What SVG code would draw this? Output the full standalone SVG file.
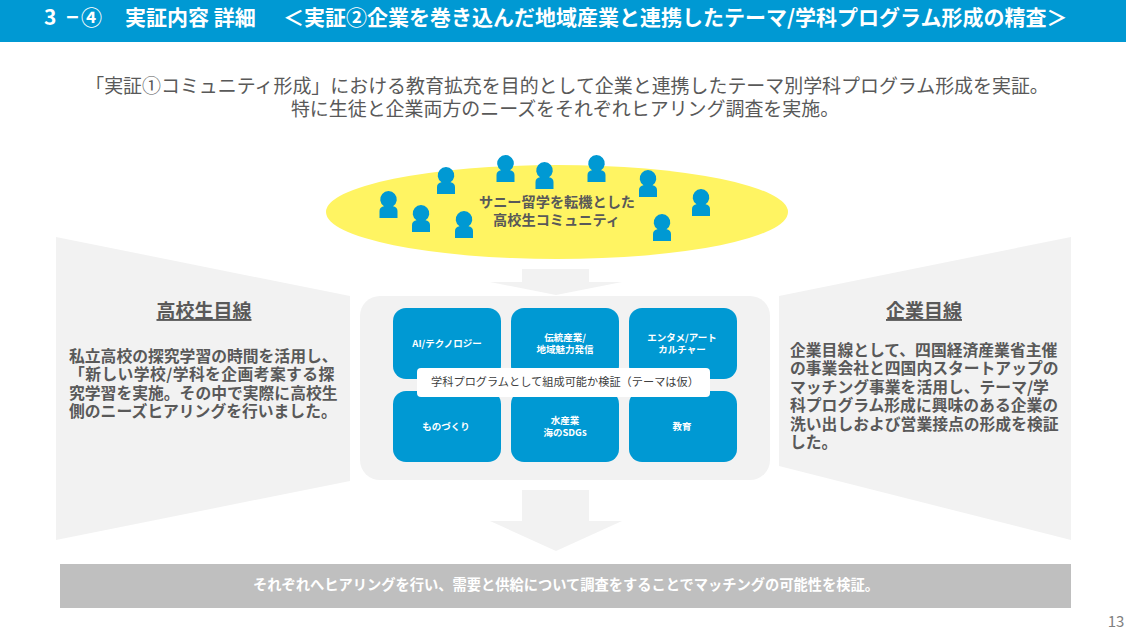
<svg xmlns="http://www.w3.org/2000/svg" width="1126" height="634" viewBox="0 0 1126 634">
<style>
text{font-family:"Noto Sans CJK JP","Liberation Sans",sans-serif;text-anchor:middle;fill:#595959}
.w{fill:#fff;font-weight:700}
.b{font-weight:700}
.g{fill:#f2f2f2}
.t{fill:#0099d3}
.cell{font-size:9.500px;fill:#fff;font-weight:700}
.side{font-size:15.800px;font-weight:700;text-anchor:start;fill:#595959}
.ttl{font-size:19px;font-weight:700;text-decoration:underline}
</style>
<defs>
<path id="person" class="t" d="M-9 0V-7C-9 -10 -7 -11 -4.500 -11.700A8.300 8.300 0 1 1 4.500 -11.700C7 -11 9 -10 9 -7V0Z"/>
</defs>
<rect width="1126" height="634" fill="#fff"/>
<g id="header">
<rect width="1126" height="42" class="t"/>
<text class="w" y="25" font-size="21px" style="text-anchor:start"><tspan x="44" y="25" letter-spacing="2.500">3 −④</tspan><tspan x="125" y="25">実証内容 詳細</tspan><tspan x="283" y="25">＜実証②企業を巻き込んだ地域産業と連携したテーマ/学科プログラム形成の精査＞</tspan></text>
</g>
<g id="intro">
<text x="567" font-size="18.950px"><tspan x="567" y="93">「実証①コミュニティ形成」における教育拡充を目的として企業と連携したテーマ別学科プログラム形成を実証。</tspan><tspan x="565" y="116">特に生徒と企業両方のニーズをそれぞれヒアリング調査を実施。</tspan></text>
</g>
<g id="left-panel">
<polygon class="g" points="56,237 350,296 350,481 56,540"/>
<text x="204" y="318" class="ttl">高校生目線</text>
<text class="side"><tspan x="69" y="362">私立高校の探究学習の時間を活用し、</tspan><tspan x="69" y="380.300" letter-spacing="0.400">「新しい学校/学科を企画考案する探</tspan><tspan x="69" y="398.600">究学習を実施。その中で実際に高校生</tspan><tspan x="69" y="416.900">側のニーズヒアリングを行いました。</tspan></text>
</g>
<g id="right-panel">
<polygon class="g" points="1071,237 779,296 779,466 1071,540"/>
<text x="924" y="318" class="ttl">企業目線</text>
<text class="side"><tspan x="790" y="356">企業目線として、四国経済産業省主催</tspan><tspan x="790" y="374.400">の事業会社と四国内スタートアップの</tspan><tspan x="790" y="392.800">マッチング事業を活用し、テーマ/学</tspan><tspan x="790" y="411.200">科プログラム形成に興味のある企業の</tspan><tspan x="790" y="429.600">洗い出しおよび営業接点の形成を検証</tspan><tspan x="790" y="448">した。</tspan></text>
</g>
<g id="community">
<ellipse cx="557" cy="212" rx="231" ry="47" fill="#fff462"/>
<use href="#person" x="388.500" y="218"/>
<use href="#person" x="421" y="232"/>
<use href="#person" x="464" y="238"/>
<use href="#person" x="446" y="194"/>
<use href="#person" x="505.500" y="182"/>
<use href="#person" x="544.500" y="189"/>
<use href="#person" x="596.500" y="182"/>
<use href="#person" x="648" y="197"/>
<use href="#person" x="701" y="216"/>
<use href="#person" x="662" y="241"/>
<text font-size="14.200px" class="b"><tspan x="557" y="207">サニー留学を転機とした</tspan><tspan x="556.500" y="225">高校生コミュニティ</tspan></text>
</g>
<g id="connectors">
<polygon class="g" points="522,269 589,269 589,282 622,282 556,295 490,282 522,282"/>
<polygon class="g" points="522,490 589,490 589,521 622,521 556,551 490,521 522,521"/>
</g>
<g id="program-panel">
<rect x="360" y="296" width="410" height="184" rx="20" class="g"/>
</g>
<g id="cell-ai"><rect x="393" y="308" width="108" height="71" rx="13" class="t"/><text class="cell" x="447" y="346.500">AI/テクノロジー</text></g>
<g id="cell-traditional"><rect x="511" y="308" width="108" height="71" rx="13" class="t"/><text class="cell"><tspan x="565" y="340.500">伝統産業/</tspan><tspan x="565" y="352.500">地域魅力発信</tspan></text></g>
<g id="cell-entertainment"><rect x="629" y="308" width="108" height="71" rx="13" class="t"/><text class="cell"><tspan x="682" y="340.500">エンタメ/アート</tspan><tspan x="682" y="352.500">カルチャー</tspan></text></g>
<g id="cell-making"><rect x="393" y="391" width="108" height="71" rx="13" class="t"/><text class="cell" x="446" y="430">ものづくり</text></g>
<g id="cell-fishery"><rect x="511" y="391" width="108" height="71" rx="13" class="t"/><text class="cell"><tspan x="565" y="424">水産業</tspan><tspan x="565" y="436">海のSDGs</tspan></text></g>
<g id="cell-education"><rect x="629" y="391" width="108" height="71" rx="13" class="t"/><text class="cell" x="682" y="430">教育</text></g>
<g id="program-label">
<rect x="417" y="368" width="293" height="29" rx="4" fill="#fff"/>
<text x="565" y="386" font-size="11.200px" style="fill:#404040">学科プログラムとして組成可能か検証（テーマは仮）</text>
</g>
<g id="conclusion">
<rect x="60" y="564" width="1011" height="44" fill="#bfbfbf"/>
<text class="w" x="566" y="590" font-size="14.250px">それぞれへヒアリングを行い、需要と供給について調査をすることでマッチングの可能性を検証。</text>
</g>
<g id="page-number"><text x="1116" y="627" font-size="15px" style="fill:#7f7f7f">13</text></g>
</svg>
